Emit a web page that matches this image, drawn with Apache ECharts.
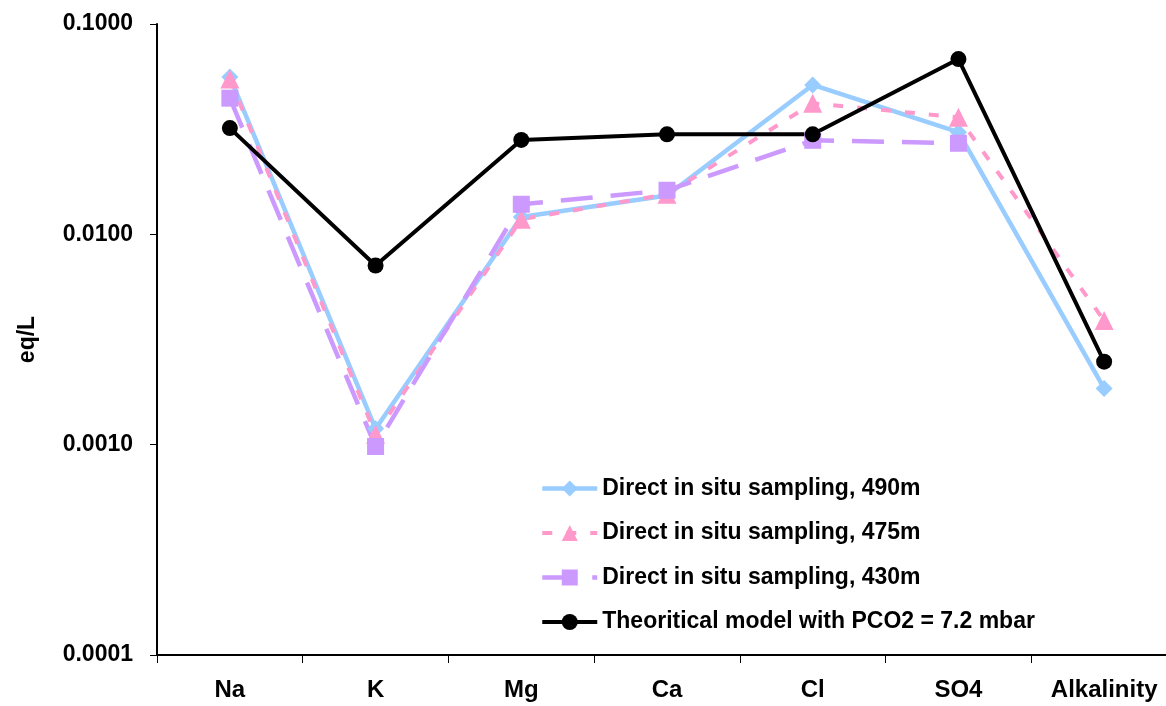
<!DOCTYPE html>
<html>
<head>
<meta charset="utf-8">
<script src="https://cdn.jsdelivr.net/npm/echarts@6/dist/echarts.min.js"></script>
<style>html,body{margin:0;padding:0;background:#fff;}#c{width:1166px;height:706px;}</style>
</head>
<body>
<div id="c"></div>
<script>
const categories = ['Na', 'K', 'Mg', 'Ca', 'Cl', 'SO4', 'Alkalinity'];
const s490 = [0.056, 0.00119, 0.0121, 0.0153, 0.0513, 0.0306, 0.00185];
const s475 = [0.0547, 0.00112, 0.0118, 0.0155, 0.042, 0.036, 0.00389];
const s430 = [0.0444, 0.00098, 0.0139, 0.0162, 0.028, 0.0271, null];
const sModel = [0.032, 0.00711, 0.0281, 0.0299, 0.0299, 0.0681, 0.00248];
const yTicks = [0.0001, 0.001, 0.01, 0.1];
const names = ['Direct in situ sampling, 490m', 'Direct in situ sampling, 475m', 'Direct in situ sampling, 430m', 'Theoritical model with PCO2 = 7.2 mbar'];

const FONT = '"Liberation Sans", Arial, sans-serif';
const chart = echarts.init(document.getElementById('c'), null, {renderer: 'canvas'});
chart.setOption({
  animation: false,
  backgroundColor: '#fff',
  grid: {left: 157, top: 24, bottom: 51, width: 1020, containLabel: false, outerBoundsMode: 'none'},
  xAxis: {
    type: 'category',
    data: categories,
    boundaryGap: true,
    axisLine: {lineStyle: {color: '#000', width: 2}},
    axisTick: {show: true, length: 8, lineStyle: {color: '#000', width: 1}},
    axisLabel: {color: '#000', fontFamily: FONT, fontWeight: 'bold', fontSize: 24, margin: 23},
    splitLine: {show: false}
  },
  yAxis: {
    type: 'log',
    logBase: 10,
    min: yTicks[0],
    max: yTicks[yTicks.length - 1],
    name: 'eq/L',
    nameLocation: 'middle',
    nameGap: 118,
    nameRotate: 90,
    nameTextStyle: {color: '#000', fontFamily: FONT, fontWeight: 'bold', fontSize: 23},
    axisLine: {show: true, lineStyle: {color: '#000', width: 2}},
    axisTick: {show: true, length: 7, lineStyle: {color: '#000', width: 1}},
    minorTick: {show: false},
    splitLine: {show: false},
    axisLabel: {color: '#000', fontFamily: FONT, fontWeight: 'bold', fontSize: 23, margin: 24,
      formatter: v => Number(v).toFixed(4)}
  },
  legend: {
    orient: 'vertical',
    left: 535,
    top: 472,
    itemWidth: 55,
    itemHeight: 20,
    itemGap: 21.5,
    textStyle: {color: '#000', fontFamily: FONT, fontWeight: 'bold', fontSize: 23, lineHeight: 22},
    data: [
      {name: names[0], lineStyle: {width: 4.5}},
      {name: names[1], lineStyle: {width: 4}},
      {name: names[2], lineStyle: {width: 4.5}},
      {name: names[3], lineStyle: {width: 4}}
    ]
  },
  series: [
    {
      name: names[0], type: 'line', data: s490,
      symbol: 'diamond', symbolSize: 17,
      itemStyle: {color: '#99CCFF'},
      lineStyle: {color: '#99CCFF', width: 4.5, type: 'solid'}
    },
    {
      name: names[1], type: 'line', data: s475,
      symbol: 'triangle', symbolSize: 19,
      itemStyle: {color: '#FF99CC'},
      lineStyle: {color: '#FF99CC', width: 4, type: [10, 14]}
    },
    {
      name: names[2], type: 'line', data: s430,
      symbol: 'rect', symbolSize: 17,
      itemStyle: {color: '#CC99FF'},
      lineStyle: {color: '#CC99FF', width: 4.5, type: [32, 18]}
    },
    {
      name: names[3], type: 'line', data: sModel,
      symbol: 'circle', symbolSize: 16,
      itemStyle: {color: '#000'},
      lineStyle: {color: '#000', width: 4, type: 'solid'}
    }
  ]
});
</script>
</body>
</html>
